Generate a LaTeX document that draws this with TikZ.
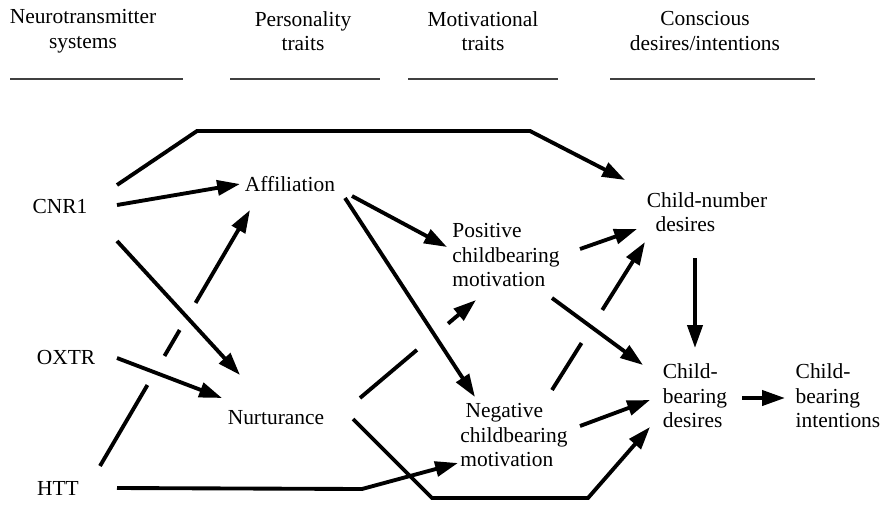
\documentclass[tikz,border=0pt]{standalone}
\usepackage{fontspec}
\setmainfont{Liberation Serif}
\usetikzlibrary{arrows.meta,calc}

\begin{document}
\begin{tikzpicture}[
  x=0.02cm, y=-0.02cm,
  font=\fontsize{12.2}{14}\selectfont,
  lbl/.style={inner sep=0pt, align=left},
  hdr/.style={inner sep=0pt, align=center},
  rule/.style={draw=black!75, line width=0.8pt},
  ln/.style={line width=2.2pt},
  arr/.style={ln, -{Triangle[length=13pt,width=8.5pt]}},
]
\useasboundingbox (0,0) rectangle (883,505);

% column headers
\node[hdr] (h1) at (83,31)  {Neurotransmitter\\systems};
\node[hdr] (h2) at (303,31) {Personality\\traits};
\node[hdr] (h3) at (483,31) {Motivational\\traits};
\node[hdr] (h4) at (705,31) {Conscious\\desires/intentions};
\draw[rule] (10,79) -- (183,79);
\draw[rule] (230,79) -- (380,79);
\draw[rule] (408,79) -- (558,79);
\draw[rule] (610,79) -- (815,79);

% genes
\node[lbl] (cnr1) at (60,206) {CNR1};
\node[lbl] (oxtr) at (66,357) {OXTR};
\node[lbl] (htt)  at (58,488) {HTT};
% personality
\node[lbl] (aff)  at (290,184) {Affiliation};
\node[lbl] (nurt) at (276,418) {Nurturance};
% motivation
\node[lbl] (pos)  at (506,255) {Positive\\childbearing\\motivation};
\node[lbl] (neg)  at (514,435) {\hspace{3pt}Negative\\childbearing\\motivation};
% desires / intentions
\node[lbl] (cnum) at (707,212) {Child-number\\\hspace{5pt}desires};
\node[lbl] (cbd)  at (695,396) {Child-\\bearing\\desires};
\node[lbl] (cbi)  at (838,396) {Child-\\bearing\\intentions};

% from CNR1
\draw[arr] ($(cnr1)+(57,-21)$) -- ++(80,-54) -- ++(333,0) -- ($(cnum)+(-82,-32)$);
\draw[arr] ($(cnr1)+(57,-1)$) -- ($(aff)+(-50,0)$);
\draw[arr] ($(cnr1)+(57,35)$) -- ($(nurt)+(-36,-43)$);
% from OXTR
\draw[arr] ($(oxtr)+(51,1)$) -- ($(nurt)+(-54,-20)$);
% from HTT (broken where it passes under)
\draw[arr, dash pattern=on 53.4pt off 19.2pt on 17.1pt off 17.9pt on 200pt]
  ($(htt)+(42,-22)$) -- ($(aff)+(-40,26)$);
\draw[arr] ($(htt)+(59,0)$) -- ++(245,1) -- ($(neg)+(-56,28)$);

% from personality traits
\draw[arr] ($(aff)+(62,12)$) -- ($(pos)+(-59,-8)$);
\draw[arr] ($(aff)+(55,14)$) -- ($(neg)+(-39,-38)$);
\draw[arr, dash pattern=on 42.4pt off 23.2pt on 100pt]
  ($(nurt)+(84,-20)$) -- ($(pos)+(-30,45)$);
\draw[arr] ($(nurt)+(77,1)$) -- ++(79,79) -- ++(156,0) -- ($(cbd)+(-45,31)$);

% from motivational traits
\draw[arr] ($(pos)+(74,-6)$) -- ($(cnum)+(-70,17)$);
\draw[arr] ($(pos)+(46,43)$) -- ($(cbd)+(-52,-31)$);
\draw[arr, dash pattern=on 31.6pt off 22.2pt on 100pt]
  ($(neg)+(38,-45)$) -- ($(cnum)+(-62,30)$);
\draw[arr] ($(neg)+(66,-9)$) -- ($(cbd)+(-45,4)$);

% desires -> intentions
\draw[arr] ($(cnum)+(-12,46)$) -- ($(cbd)+(0,-48)$);
\draw[arr] ($(cbd)+(47,2)$) -- ($(cbi)+(-53,2)$);

\end{tikzpicture}
\end{document}
